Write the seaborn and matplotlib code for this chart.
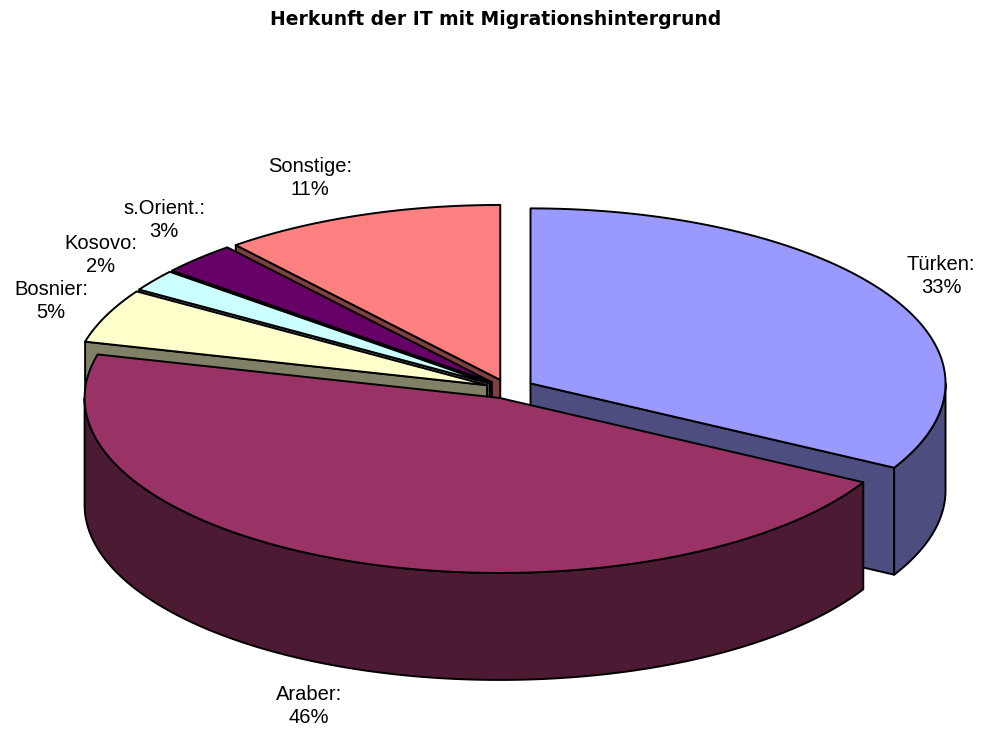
import numpy as np
import matplotlib
matplotlib.use("Agg")
import matplotlib.pyplot as plt
from matplotlib.patches import Polygon
from matplotlib.colors import to_rgb
import seaborn as sns

# data
categories = ["Türken", "Araber", "Bosnier", "Kosovo", "s.Orient.", "Sonstige"]
shares = [33, 46, 5, 2, 3, 11]
colors = ["#9999FF", "#993366", "#FFFFCC", "#CCFFFF", "#660066", "#FF8080"]

# layout of the 3d pie (pixel space, y pointing down)
cx, cy = 508, 389
rx, ry = 415, 175
depth = 107
explode = [0.063, 0.055, 0.055, 0.055, 0.055, 0.055]
label_pos = [(941, 276), (309, 706), (51, 301), (101, 255), (164, 220), (310, 178)]

sns.set_theme(style="white")
plt.rcParams["font.family"] = ["Liberation Sans", "DejaVu Sans"]

fig = plt.figure(figsize=(9.89, 7.29), dpi=100)
ax = fig.add_axes([0, 0, 1, 1])
ax.set_xlim(0, 989)
ax.set_ylim(729, 0)
ax.axis("off")

total = sum(shares)
bounds = np.concatenate([[0], np.cumsum(shares)]) / total * 2 * np.pi
lw = 1.4


def pt(c, th, z=0.0):
    return (c[0] + rx * np.sin(th), c[1] - ry * np.cos(th) + z)


def face(points, color):
    ax.add_patch(Polygon(points, closed=True, facecolor=color,
                         edgecolor="black", linewidth=lw, joinstyle="round"))


slices = []
for i in range(len(shares)):
    t1, t2 = bounds[i], bounds[i + 1]
    mid = (t1 + t2) / 2
    c = (cx + explode[i] * rx * np.sin(mid), cy - explode[i] * ry * np.cos(mid))
    slices.append((i, t1, t2, mid, c))

# paint back to front
for i, t1, t2, mid, c in sorted(slices, key=lambda s: -np.cos(s[3])):
    top = to_rgb(colors[i])
    side = tuple(v * 0.5 for v in top)
    apex_top, apex_bot = c, (c[0], c[1] + depth)
    # radial faces
    if np.sin(t1) < -1e-6:
        face([apex_top, pt(c, t1), pt(c, t1, depth), apex_bot], side)
    if np.sin(t2) > 1e-6:
        face([apex_top, pt(c, t2), pt(c, t2, depth), apex_bot], side)
    # outer curved wall, front half only
    a, b = max(t1, np.pi / 2), min(t2, 3 * np.pi / 2)
    if b > a:
        th = np.linspace(a, b, 200)
        upper = [pt(c, t) for t in th]
        lower = [pt(c, t, depth) for t in th[::-1]]
        face(upper + lower, side)
    # top face
    th = np.linspace(t1, t2, 300)
    face([c] + [pt(c, t) for t in th], top)

for i, (x, y) in enumerate(label_pos):
    ax.text(x, y, f"{categories[i]}:\n{shares[i]}%", ha="center", va="center",
            fontsize=14.5, color="black", linespacing=1.3)

ax.text(496, 19, "Herkunft der IT mit Migrationshintergrund", ha="center",
        va="center", fontsize=13.5, fontweight="bold", color="black",
        family=["DejaVu Sans"])

fig.savefig("out.png", dpi=100, facecolor="white")
